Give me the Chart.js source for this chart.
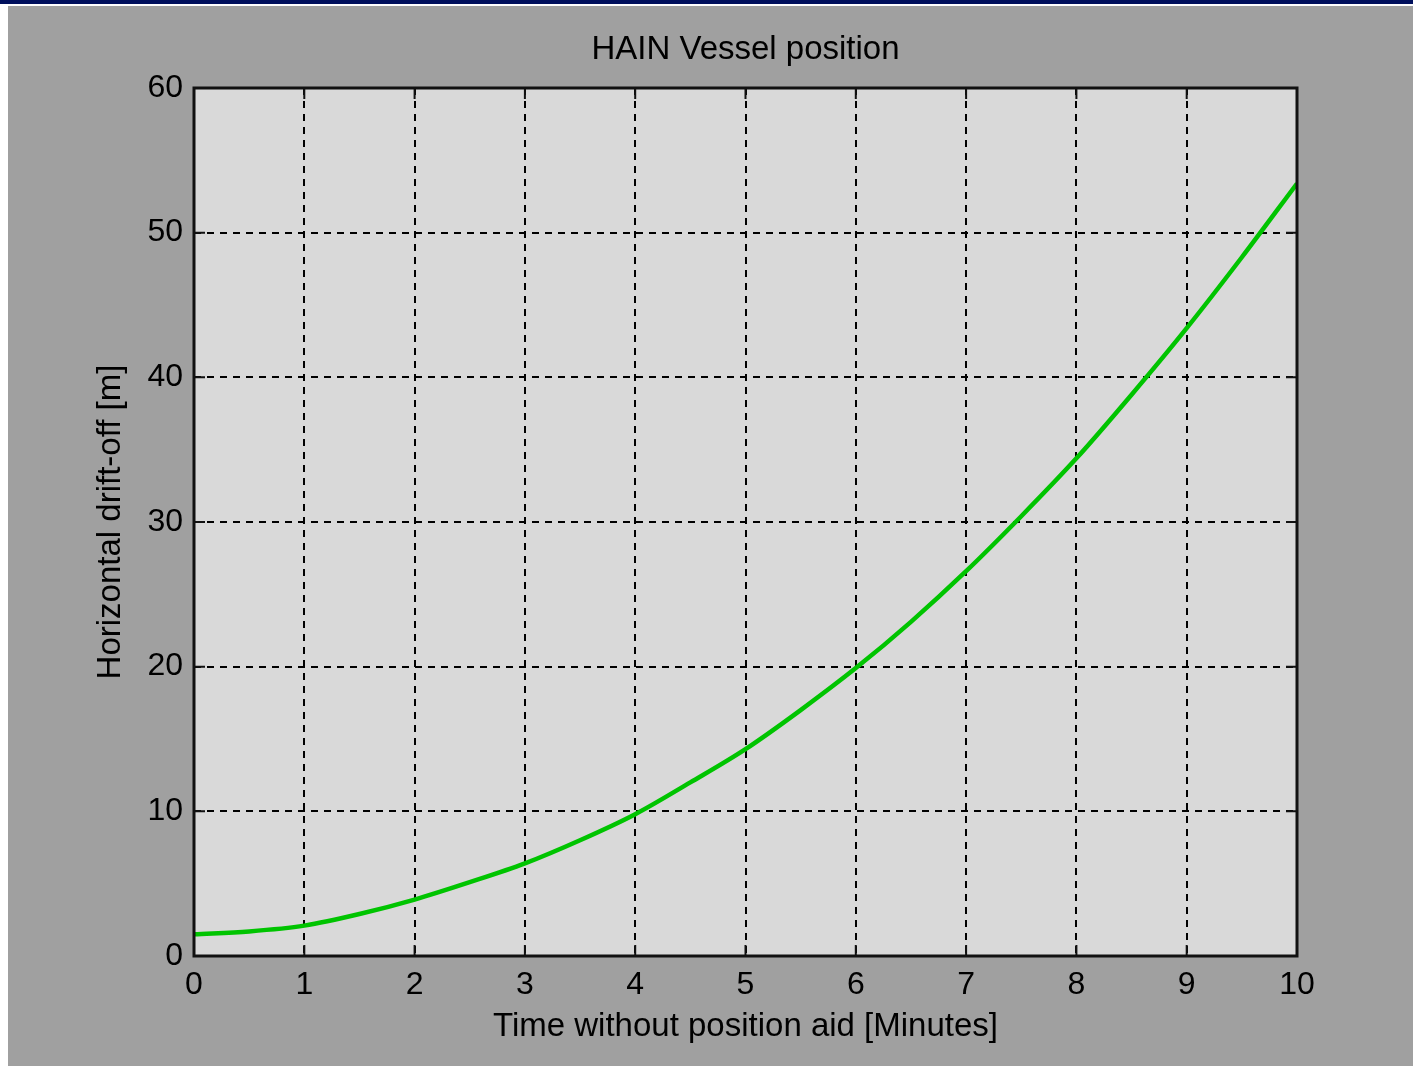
<!DOCTYPE html>
<html lang="en">
<head>
    <meta charset="UTF-8">
    <title>HAIN Vessel position</title>
    <script src="https://cdn.jsdelivr.net/npm/chart.js"></script>
    <style>
        html, body {
            margin: 0;
            padding: 0;
            background: #a0a0a0;
        }
        #wrap {
            width: 1413px;
            height: 1066px;
        }
    </style>
</head>
<body>
    <div id="wrap"><canvas id="driftChart" width="1413" height="1066"></canvas></div>

    <script>
        // Data
        const minutes = [0, 0.5, 1, 1.5, 2, 2.5, 3, 3.5, 4, 4.5, 5, 5.5, 6, 6.5, 7, 7.5, 8, 8.5, 9, 9.5, 10];
        const driftOff = [1.5, 1.7, 2.1, 2.9, 3.9, 5.1, 6.4, 8.0, 9.8, 12.0, 14.3, 17.0, 19.9, 23.1, 26.6, 30.4, 34.4, 38.8, 43.4, 48.3, 53.4];
        const xTicks = [0, 1, 2, 3, 4, 5, 6, 7, 8, 9, 10];
        const yTicks = [0, 10, 20, 30, 40, 50, 60];

        const FONT = "'Liberation Sans', Arial, sans-serif";

        // window background, plot area, frame and inner tick marks (MATLAB look)
        const matlabFrame = {
            id: 'matlabFrame',
            beforeDraw(chart) {
                const ctx = chart.ctx;
                const a = chart.chartArea;
                ctx.save();
                ctx.fillStyle = '#a0a0a0';
                ctx.fillRect(0, 0, chart.width, chart.height);
                ctx.fillStyle = '#ffffff';
                ctx.fillRect(0, 0, 8, chart.height);
                ctx.fillRect(0, 0, chart.width, 6);
                ctx.fillStyle = '#000f5c';
                ctx.fillRect(0, 0, chart.width, 4);
                ctx.fillStyle = '#d9d9d9';
                ctx.fillRect(a.left, a.top, a.right - a.left, a.bottom - a.top);
                ctx.restore();
            },
            afterDraw(chart) {
                const ctx = chart.ctx;
                const a = chart.chartArea;
                const xs = chart.scales.x;
                const ys = chart.scales.y;
                const len = 11;
                ctx.save();
                ctx.strokeStyle = '#111111';
                ctx.lineWidth = 2;
                ctx.beginPath();
                xTicks.forEach(v => {
                    const px = xs.getPixelForValue(v);
                    ctx.moveTo(px, a.bottom);
                    ctx.lineTo(px, a.bottom - len);
                    ctx.moveTo(px, a.top);
                    ctx.lineTo(px, a.top + len);
                });
                yTicks.forEach(v => {
                    const py = ys.getPixelForValue(v);
                    ctx.moveTo(a.left, py);
                    ctx.lineTo(a.left + len, py);
                    ctx.moveTo(a.right, py);
                    ctx.lineTo(a.right - len, py);
                });
                ctx.stroke();
                ctx.lineWidth = 3;
                ctx.strokeRect(a.left, a.top, a.right - a.left, a.bottom - a.top);
                ctx.restore();
            }
        };

        const ctx = document.getElementById('driftChart').getContext('2d');
        new Chart(ctx, {
            type: 'line',
            data: {
                datasets: [{
                    label: 'Drift-off',
                    data: minutes.map((m, i) => ({ x: m, y: driftOff[i] })),
                    borderColor: '#00c400',
                    borderWidth: 4.5,
                    pointRadius: 0,
                    cubicInterpolationMode: 'monotone',
                    fill: false
                }]
            },
            options: {
                responsive: false,
                animation: false,
                layout: {
                    padding: { left: 0, right: 116, top: 0, bottom: 0 }
                },
                plugins: {
                    legend: { display: false },
                    tooltip: { enabled: false },
                    title: {
                        display: true,
                        fullSize: false,
                        text: 'HAIN Vessel position',
                        color: '#000000',
                        font: { family: FONT, size: 33, weight: 'normal' },
                        padding: { top: 30, bottom: 18.4 }
                    }
                },
                scales: {
                    x: {
                        type: 'linear',
                        min: 0,
                        max: 10,
                        afterBuildTicks: scale => {
                            scale.ticks = xTicks.map(v => ({ value: v }));
                        },
                        afterFit: scale => { scale.height = 110; },
                        grid: {
                            color: '#000000',
                            lineWidth: 2,
                            drawTicks: false
                        },
                        border: { display: false, dash: [7, 6] },
                        ticks: {
                            color: '#000000',
                            padding: 10,
                            maxRotation: 0,
                            font: { family: FONT, size: 32 }
                        },
                        title: {
                            display: true,
                            text: 'Time without position aid [Minutes]',
                            color: '#000000',
                            font: { family: FONT, size: 33 },
                            padding: { top: 0, bottom: 19 }
                        }
                    },
                    y: {
                        type: 'linear',
                        min: 0,
                        max: 60,
                        afterBuildTicks: scale => {
                            scale.ticks = yTicks.map(v => ({ value: v }));
                        },
                        afterFit: scale => { scale.width = 194; },
                        grid: {
                            color: '#000000',
                            lineWidth: 2,
                            drawTicks: false
                        },
                        border: { display: false, dash: [7, 6] },
                        ticks: {
                            color: '#000000',
                            padding: 11,
                            font: { family: FONT, size: 32 }
                        },
                        title: {
                            display: true,
                            text: 'Horizontal drift-off [m]',
                            color: '#000000',
                            font: { family: FONT, size: 33 },
                            padding: { top: 91, bottom: 0 }
                        }
                    }
                }
            },
            plugins: [matlabFrame]
        });
    </script>
</body>
</html>
